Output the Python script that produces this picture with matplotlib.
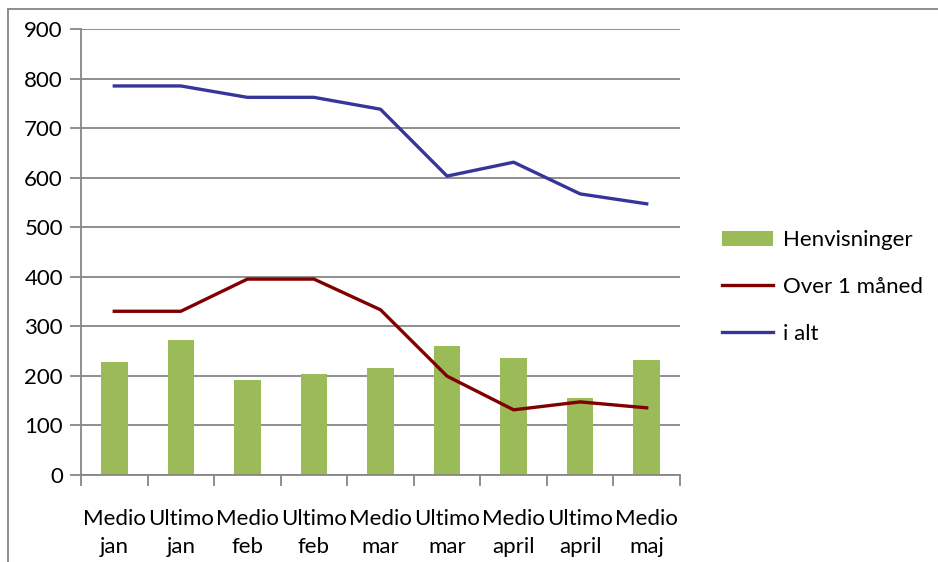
import matplotlib
matplotlib.use("Agg")
import numpy as np
from matplotlib import pyplot as plt
from matplotlib.lines import Line2D

# data
categories = ["Medio\njan", "Ultimo\njan", "Medio\nfeb", "Ultimo\nfeb", "Medio\nmar",
              "Ultimo\nmar", "Medio\napril", "Ultimo\napril", "Medio\nmaj"]
henvisninger = [228, 272, 191, 203, 216, 260, 236, 155, 232]
over_1_maaned = [330, 330, 395, 395, 333, 199, 131, 147, 135]
i_alt = [785, 785, 762, 762, 738, 603, 631, 567, 547]

plt.rcParams['font.family'] = ['Lato', 'DejaVu Sans']
grey = "#868686"
fs = 16

fig = plt.figure(figsize=(9.38, 5.62), dpi=100)
ax = fig.add_axes([81/938, (562-474.7)/562, 599/938, 445.7/562])

x = np.arange(len(categories))
b = ax.bar(x, henvisninger, width=0.4, color="#9BBB59", label="Henvisninger", zorder=2)
l1, = ax.plot(x, over_1_maaned, color="#800000", lw=2.4, label="Over 1 måned", zorder=3)
l2, = ax.plot(x, i_alt, color="#35359A", lw=2.4, label="i alt", zorder=3)

ax.set_xlim(-0.5, len(categories) - 0.5)
ax.set_ylim(0, 900)
ax.set_yticks(range(0, 901, 100))
ax.yaxis.grid(True, color=grey, lw=1.3, zorder=0)
ax.set_axisbelow(True)

# category labels between boundary ticks
ax.set_xticks(np.arange(len(categories) + 1) - 0.5)
ax.set_xticklabels([])
ax.set_xticks(x, minor=True)
ax.set_xticklabels(categories, minor=True, fontsize=fs, linespacing=1.5)
ax.tick_params(axis='x', which='minor', length=0, pad=25)
ax.tick_params(axis='x', which='major', length=8, width=1.3, color=grey)
ax.tick_params(axis='y', length=8, width=1.3, color=grey, labelsize=fs, pad=5)

for s in ["top", "right"]:
    ax.spines[s].set_visible(False)
for s in ["left", "bottom"]:
    ax.spines[s].set_color(grey)
    ax.spines[s].set_linewidth(1.3)

ax.legend([b, l1, l2], ["Henvisninger", "Over 1 måned", "i alt"],
          loc="center left", bbox_to_anchor=((722-81)/599, (474.7-287)/445.7),
          frameon=False, fontsize=fs, handlelength=2.3, handleheight=0.7,
          labelspacing=1.2, handletextpad=0.45, borderpad=0, borderaxespad=0)

# outer chart border (partly cropped)
fig.add_artist(Line2D([8/938, 8/938], [0, 1 - 9/562], color=grey, lw=1.3))
fig.add_artist(Line2D([8/938, 1], [1 - 9/562, 1 - 9/562], color=grey, lw=1.3))

fig.savefig("out.png", dpi=100)
